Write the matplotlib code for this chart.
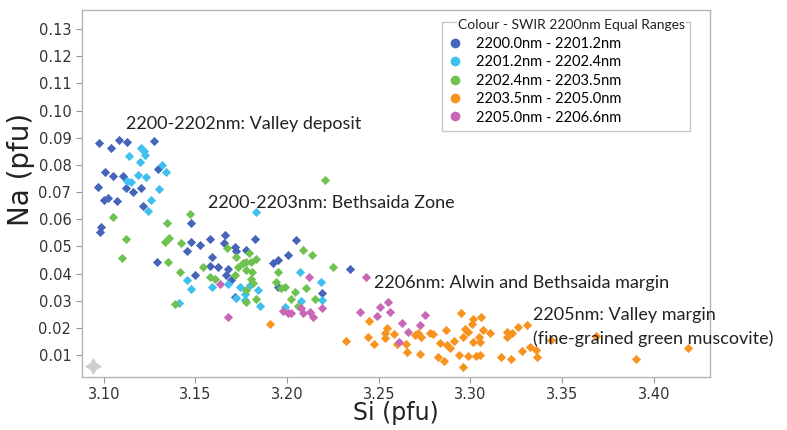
import matplotlib
matplotlib.use("Agg")
import matplotlib.pyplot as plt
from matplotlib.lines import Line2D
from matplotlib.patches import Rectangle

# ----------------------------
# Data (Si, Na in pfu), grouped by SWIR 2200nm range
# ----------------------------
range_labels = [
    "2200.0nm - 2201.2nm",
    "2201.2nm - 2202.4nm",
    "2202.4nm - 2203.5nm",
    "2203.5nm - 2205.0nm",
    "2205.0nm - 2206.6nm",
]
range_colors = ["#4765b8", "#3fc0ef", "#6fc24f", "#f8931f", "#c967b6"]

si_2200 = [3.0977, 3.1038, 3.1086, 3.1129, 3.1273, 3.1296, 3.1005, 3.1053, 3.1107, 3.0969,
           3.1120, 3.1160, 3.1206, 3.1002, 3.1023, 3.1071, 3.1214, 3.0987, 3.0978, 3.1478,
           3.1478, 3.1524, 3.1578, 3.1660, 3.1655, 3.1715, 3.1724, 3.1778, 3.1825, 3.1454,
           3.1291, 3.1588, 3.1578, 3.1624, 3.1678, 3.1496, 3.1666, 3.1697, 3.1924, 3.1951,
           3.1951, 3.1715, 3.2051, 3.2005, 3.2346, 3.2193]
na_2200 = [0.0879, 0.0861, 0.0891, 0.0883, 0.0888, 0.0786, 0.0774, 0.0759, 0.0760, 0.0719,
           0.0714, 0.0700, 0.0715, 0.0670, 0.0678, 0.0668, 0.0648, 0.0571, 0.0552, 0.0587,
           0.0515, 0.0505, 0.0526, 0.0542, 0.0514, 0.0499, 0.0485, 0.0487, 0.0526, 0.0485,
           0.0443, 0.0462, 0.0429, 0.0426, 0.0417, 0.0394, 0.0395, 0.0377, 0.0438, 0.0450,
           0.0352, 0.0315, 0.0524, 0.0469, 0.0416, 0.0330]

si_2201 = [3.1206, 3.1220, 3.1224, 3.1136, 3.1196, 3.1318, 3.1338, 3.1187, 3.1229, 3.1125,
           3.1147, 3.1300, 3.1256, 3.1242, 3.1833, 3.1454, 3.1475, 3.1593, 3.1678, 3.1742,
           3.1796, 3.1769, 3.1842, 3.1769, 3.1724, 3.1851, 3.1411, 3.2069, 3.2185, 3.2078,
           3.2188, 3.1987]
na_2201 = [0.0861, 0.0852, 0.0836, 0.0832, 0.0809, 0.0800, 0.0773, 0.0762, 0.0754, 0.0742,
           0.0738, 0.0712, 0.0670, 0.0632, 0.0628, 0.0376, 0.0345, 0.0352, 0.0362, 0.0352,
           0.0358, 0.0325, 0.0340, 0.0303, 0.0310, 0.0281, 0.0293, 0.0406, 0.0369, 0.0301,
           0.0303, 0.0276]

si_2202 = [3.1051, 3.1471, 3.1345, 3.1124, 3.1356, 3.1333, 3.1424, 3.1102, 3.1675, 3.1724,
           3.1793, 3.1351, 3.1415, 3.1542, 3.1733, 3.1760, 3.1778, 3.1806, 3.1829, 3.1778,
           3.1811, 3.1715, 3.1578, 3.1606, 3.1806, 3.1814, 3.1778, 3.1951, 3.1942, 3.1833,
           3.1778, 3.1387, 3.2087, 3.2136, 3.2250, 3.1969, 3.1987, 3.2042, 3.2102, 3.2024,
           3.2151, 3.2060, 3.2207]
na_2202 = [0.0609, 0.0619, 0.0585, 0.0526, 0.0531, 0.0518, 0.0512, 0.0459, 0.0496, 0.0462,
           0.0477, 0.0443, 0.0407, 0.0426, 0.0426, 0.0438, 0.0444, 0.0444, 0.0453, 0.0414,
           0.0407, 0.0395, 0.0387, 0.0380, 0.0379, 0.0365, 0.0340, 0.0407, 0.0371, 0.0306,
           0.0297, 0.0289, 0.0487, 0.0468, 0.0426, 0.0346, 0.0352, 0.0334, 0.0346, 0.0306,
           0.0308, 0.0281, 0.0744]

si_2203 = [3.1906, 3.2324, 3.2447, 3.2442, 3.2473, 3.2533, 3.2533, 3.2545, 3.2584, 3.2597,
           3.2647, 3.2655, 3.2697, 3.2715, 3.2733, 3.2724, 3.2778, 3.2796, 3.2833, 3.2866,
           3.2873, 3.2887, 3.2909, 3.2824, 3.2855, 3.2947, 3.3015, 3.3006, 3.3060, 3.2969,
           3.2987, 3.2960, 3.3015, 3.3047, 3.3055, 3.3069, 3.3106, 3.2938, 3.2987, 3.3033,
           3.3055, 3.2957, 3.3169, 3.3224, 3.3197, 3.3200, 3.3229, 3.3260, 3.3306, 3.3284,
           3.3324, 3.3364, 3.3360, 3.3442, 3.3684, 3.3902, 3.4187]
na_2203 = [0.0214, 0.0154, 0.0227, 0.0168, 0.0142, 0.0181, 0.0162, 0.0199, 0.0177, 0.0142,
           0.0142, 0.0110, 0.0175, 0.0181, 0.0168, 0.0105, 0.0181, 0.0178, 0.0146, 0.0193,
           0.0138, 0.0126, 0.0154, 0.0095, 0.0080, 0.0254, 0.0232, 0.0215, 0.0241, 0.0196,
           0.0186, 0.0166, 0.0150, 0.0166, 0.0150, 0.0193, 0.0181, 0.0101, 0.0097, 0.0097,
           0.0101, 0.0058, 0.0095, 0.0085, 0.0187, 0.0166, 0.0183, 0.0205, 0.0211, 0.0117,
           0.0129, 0.0095, 0.0119, 0.0156, 0.0171, 0.0085, 0.0126]

si_2205 = [3.1637, 3.1678, 3.2120, 3.2429, 3.1978, 3.2005, 3.2024, 3.2078, 3.2087, 3.2124,
           3.2142, 3.2193, 3.2396, 3.2506, 3.2548, 3.2564, 3.2488, 3.2626, 3.2751, 3.2724,
           3.2660, 3.2610]
na_2205 = [0.0361, 0.0241, 0.0389, 0.0386, 0.0264, 0.0254, 0.0254, 0.0273, 0.0254, 0.0260,
           0.0242, 0.0273, 0.0260, 0.0276, 0.0297, 0.0260, 0.0244, 0.0218, 0.0248, 0.0211,
           0.0187, 0.0150]

zone_labels = [
    "2200-2202nm: Valley deposit",
    "2200-2203nm: Bethsaida Zone",
    "2206nm: Alwin and Bethsaida margin",
    "2205nm: Valley margin",
    "(fine-grained green muscovite)",
]
zone_x = [3.1124, 3.1569, 3.2473, 3.3342, 3.3342]
zone_y = [0.0950, 0.0660, 0.0365, 0.0248, 0.0159]

si_groups = [si_2200, si_2201, si_2202, si_2203, si_2205]
na_groups = [na_2200, na_2201, na_2202, na_2203, na_2205]

# ----------------------------
# Plotting
# ----------------------------
fig = plt.figure(figsize=(7.87, 4.30), dpi=100)
ax = fig.add_axes([0.1038, 0.124, 0.7982, 0.8527])

for xs, ys, c in zip(si_groups, na_groups, range_colors):
    ax.scatter(xs, ys, marker="D", s=22, color=c, linewidths=0, zorder=3)

# little grey sparkle in the corner of the original
ax.plot([3.094], [0.0061], marker=(4, 1, 0), markersize=11, color="#cfcfcf",
        linestyle="none", zorder=2)

for t, x, y in zip(zone_labels, zone_x, zone_y):
    ax.text(x, y, t, fontsize=13, family="Lato", color="#222222",
            va="center", ha="left", zorder=4)

ax.set_xlim(3.088, 3.4306)
ax.set_ylim(0.0021, 0.137)
ax.set_xticks([3.10, 3.15, 3.20, 3.25, 3.30, 3.35, 3.40])
ax.set_yticks([0.01, 0.02, 0.03, 0.04, 0.05, 0.06, 0.07, 0.08, 0.09, 0.10, 0.11, 0.12, 0.13])
ax.xaxis.set_major_formatter(plt.FormatStrFormatter("%.2f"))
ax.yaxis.set_major_formatter(plt.FormatStrFormatter("%.2f"))
ax.tick_params(direction="out", length=4, width=0.8, color="#999999",
               labelcolor="#333333", labelsize=10.5)
for sp in ax.spines.values():
    sp.set_color("#b5b5b5")
    sp.set_linewidth(1)

ax.set_xlabel("Si (pfu)", fontsize=17, color="#222222")
ax.set_ylabel("Na (pfu)", fontsize=20, color="#222222")
ax.xaxis.set_label_coords(0.5, -0.066)
ax.yaxis.set_label_coords(-0.074, 0.564)

# legend with a fieldset-like frame
handles = [Line2D([], [], marker="o", linestyle="none", markersize=7, color=c,
                  markeredgewidth=0) for c in range_colors]
leg = ax.legend(handles, range_labels, loc="upper left",
                bbox_to_anchor=(447.4 / 787, 1 - 37 / 430), bbox_transform=fig.transFigure,
                frameon=False, borderpad=0, borderaxespad=0, handlelength=1.0,
                handletextpad=0.95, labelspacing=0.3,
                prop={"family": "Lato", "size": 10.5})
leg.set_zorder(6)

frame = Rectangle((441.7 / 787, 1 - 131 / 430), (690 - 441.7) / 787, (131 - 21.7) / 430,
                  transform=fig.transFigure, fill=False, edgecolor="#c8c8c8",
                  linewidth=1, zorder=5)
fig.add_artist(frame)
fig.text(458 / 787, 1 - 25 / 430, "Colour - SWIR 2200nm Equal Ranges", family="Lato",
         fontsize=10, color="#222222", va="center", ha="left", zorder=7,
         bbox=dict(facecolor="white", edgecolor="none", pad=1))

fig.savefig("out.png", dpi=100)
